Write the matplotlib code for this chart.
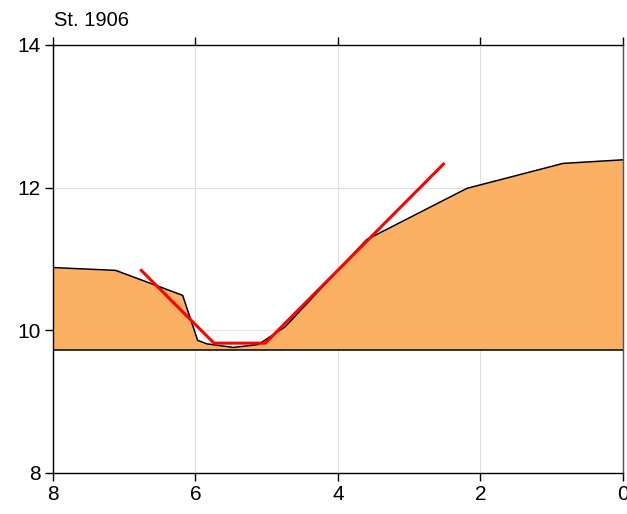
import matplotlib.pyplot as plt

plt.rcParams['font.family'] = ['Liberation Sans', 'DejaVu Sans']

# Cross-section profile (distance, elevation)
profile_x = [8.0, 7.12, 6.18, 5.97, 5.84, 5.47, 5.12, 4.74, 3.60, 2.19, 0.84, 0.0]
profile_y = [10.88, 10.84, 10.49, 9.86, 9.81, 9.76, 9.80, 10.05, 11.27, 11.99, 12.34, 12.39]
base_level = 9.73

# Fitted trapezoid (red)
fit_x = [6.76, 5.74, 5.02, 2.52]
fit_y = [10.84, 9.82, 9.82, 12.33]

fig = plt.figure(figsize=(6.27, 5.14), dpi=100)
ax = fig.add_axes([0.0845, 0.0798, 0.9091, 0.8327])

ax.fill_between(profile_x, profile_y, base_level, color='#fcb064', zorder=2, linewidth=0)
ax.plot(profile_x, profile_y, color='black', lw=1.1, zorder=3)
ax.axhline(base_level, color='black', lw=1.1, zorder=3)
ax.plot(fit_x, fit_y, color='#ff0000', lw=2.2, zorder=4)

ax.set_xlim(8, 0)
ax.set_ylim(8, 14)
ax.set_xticks([8, 6, 4, 2, 0])
ax.set_yticks([8, 10, 12, 14])
ax.grid(True, color='#e0e0e0', lw=0.8, zorder=0)
ax.set_axisbelow(True)

for s in ax.spines.values():
    s.set_linewidth(1.0)
    s.set_color('black')
ax.spines['right'].set_color('#555555')

ax.tick_params(axis='both', direction='out', length=6, width=1.0,
               labelsize=15, top=True, pad=3)
ax.tick_params(axis='y', right=False)
sec = ax.secondary_yaxis('right')
sec.set_yticks([10, 12])
sec.tick_params(direction='in', length=6, width=1.0, labelright=False)
sec.spines['right'].set_visible(False)

ax.text(0.002, 1.035, 'St. 1906', transform=ax.transAxes, fontsize=14.5, ha='left', va='bottom')

fig.savefig('out.png', dpi=100)
